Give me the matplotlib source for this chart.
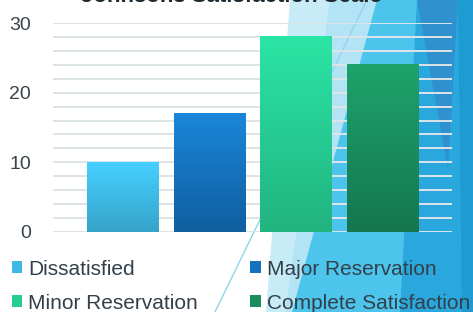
import numpy as np
import matplotlib.pyplot as plt
from matplotlib.colors import LinearSegmentedColormap, to_rgb
from matplotlib.patches import Polygon, Patch

categories = ['Dissatisfied', 'Major Reservation', 'Minor Reservation', 'Complete Satisfaction']
values = [10, 17, 28, 24]
top_colors = ['#46d0ff', '#1a86da', '#2be5a5', '#1ea36c']
bottom_colors = ['#36a3c9', '#105f9f', '#21b380', '#157650']
title = 'Johnsons Satisfaction Scale'

plt.rcParams['font.family'] = ['Liberation Sans', 'DejaVu Sans']

W, H = 473, 312
fig = plt.figure(figsize=(W / 100, H / 100), dpi=100)

# decorative background (pixel coords, y down)
bg = fig.add_axes([0, 0, 1, 1], zorder=0)
bg.set_xlim(0, W)
bg.set_ylim(H, 0)
bg.axis('off')
shapes = [
    ([(290, 0), (473, 0), (473, 312), (266, 312)], '#c8ebf8'),
    ([(330, 0), (378, 0), (295, 312), (285, 312)], '#b3e4f6'),
    ([(377, 0), (473, 0), (473, 312), (292, 312)], '#4cc4ec'),
    ([(417, 0), (473, 0), (473, 312), (400, 312)], '#2aa7dd'),
    ([(417, 0), (458, 0), (448, 170)], '#2f92cf'),
    ([(458, 0), (473, 0), (473, 312), (462, 312)], '#1d9bd2'),
]
for pts, c in shapes:
    bg.add_patch(Polygon(pts, closed=True, color=c, lw=0))
bg.plot([215, 367], [312, 0], color='#8fd4f0', lw=1)

ax = fig.add_axes([53 / W, 1 - 232 / H, (452 - 53) / W, (232 - 23) / H], zorder=1)
ax.patch.set_alpha(0)

x = np.arange(len(values))
width = 0.82
for i, v in enumerate(values):
    cmap = LinearSegmentedColormap.from_list('g', [bottom_colors[i], top_colors[i]])
    grad = np.linspace(1, 0, 100).reshape(-1, 1)
    ax.imshow(grad, cmap=cmap, aspect='auto', vmin=0, vmax=1,
              extent=[x[i] - width / 2, x[i] + width / 2, 0, v], zorder=3)

ax.set_xlim(-0.8, 3.8)
ax.set_ylim(0, 30)
ax.set_yticks([0, 10, 20, 30])
ax.set_yticks(np.arange(0, 31, 2), minor=True)
ax.set_xticks([])
ax.grid(True, which='both', axis='y', color='#dde4e8', lw=1.4, zorder=0)
ax.set_axisbelow(True)
for s in ax.spines.values():
    s.set_visible(False)
ax.tick_params(axis='y', which='both', length=0, labelsize=14, labelcolor='#38444c', pad=16)

fig.text(0.49, 1 - 2 / H, title, ha='center', va='baseline',
         fontsize=16, fontweight='bold', color='#1f2a30')

handles = [Patch(facecolor=(np.array(to_rgb(t)) + np.array(to_rgb(b))) / 2)
           for t, b in zip(top_colors, bottom_colors)]
order = [0, 2, 1, 3]
fig.legend([handles[k] for k in order], [categories[k] for k in order],
           ncol=2, loc='upper left', bbox_to_anchor=(-5 / W, 1 - 243 / H),
           frameon=False, fontsize=15, handlelength=0.5, handleheight=0.5,
           handletextpad=0.3, columnspacing=2.5, labelspacing=0.72,
           borderpad=0.3, labelcolor='#33404a')

fig.savefig('out.png', dpi=100)
